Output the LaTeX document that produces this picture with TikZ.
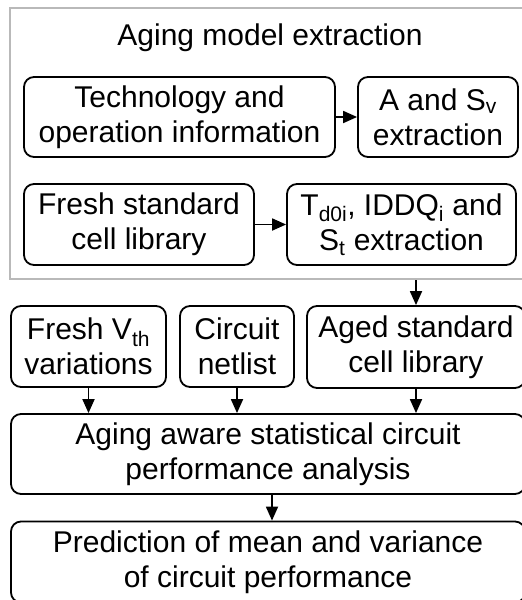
\documentclass[tikz,border=0pt]{standalone}
\usepackage{fontspec}
\setmainfont{Liberation Sans}
\usetikzlibrary{arrows.meta}
\begin{document}
\begin{tikzpicture}[x=1pt,y=-1pt,
  box/.style={draw=black,line width=1.8pt,rounded corners=10pt,align=center,inner sep=0pt,
    font=\fontsize{30}{35}\selectfont},
  arr/.style={line width=1.8pt,-{Triangle[length=14pt,width=12pt]}},
  lab/.style={font=\fontsize{30}{35}\selectfont}]
\useasboundingbox (0,0) rectangle (522,600);
\node[draw={rgb,255:red,185;green,185;blue,185},line width=2pt,minimum width=520pt,minimum height=271pt,inner sep=0pt] (outer) at (270,143.5) {};
\node[lab] (title) at (270,38) {Aging model extraction};
\node[box,minimum width=311pt,minimum height=80pt] (tech) at (179.5,117) {Technology and\\operation information};
\node[box,minimum width=160pt,minimum height=80pt] (asv) at (438,117) {A and S\textsubscript{v}\\extraction};
\node[box,minimum width=230pt,minimum height=81pt] (fresh) at (139,224.5) {Fresh standard\\cell library};
\node[box,minimum width=229pt,minimum height=81pt] (td) at (401.5,224.5) {T\textsubscript{d0i}, IDDQ\textsubscript{i} and\\S\textsubscript{t} extraction};
\node[box,minimum width=155pt,minimum height=81pt] (vth) at (88.5,346.5) {Fresh V\textsubscript{th}\\variations};
\node[box,minimum width=114pt,minimum height=81pt] (net) at (237,346.5) {Circuit\\netlist};
\node[box,minimum width=218pt,minimum height=82pt] (aged) at (416,347) {Aged standard\\cell library};
\node[box,minimum width=514pt,minimum height=80pt] (ana) at (268,454) {Aging aware statistical circuit\\performance analysis};
\node[box,minimum width=514pt,minimum height=81pt] (pred) at (268,562) {Prediction of mean and variance\\of circuit performance};
\draw[arr] (tech) -- (asv);
\draw[arr] (fresh) -- (td);
\draw[arr] (outer.south -| aged.north) -- (aged.north);
\draw[arr] (vth) -- (vth.south |- ana.north);
\draw[arr] (net) -- (net.south |- ana.north);
\draw[arr] (aged) -- (aged.south |- ana.north);
\draw[arr] (ana.south -| 272,0) -- (pred.north -| 272,0);
\end{tikzpicture}
\end{document}
